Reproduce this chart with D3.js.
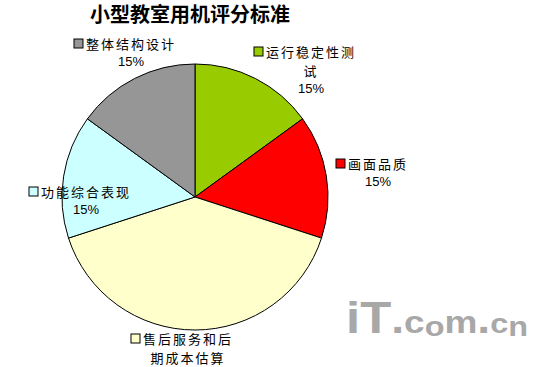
<!DOCTYPE html>
<html lang="zh">
<head>
<meta charset="UTF-8">
<title>小型教室用机评分标准</title>
<script src="https://d3js.org/d3.v7.min.js"></script>
<style>
  body { margin: 0; background: #fff; }
  svg { display: block; }
</style>
</head>
<body>
<svg></svg>
<script>
    var width = 550, height = 367;

    // chart data
    var titleText = "小型教室用机评分标准";
    var categories = ["运行稳定性测试", "画面品质", "售后服务和后期成本估算", "功能综合表现", "整体结构设计"];
    var values = [15, 15, 40, 15, 15];
    var colors = ["#99cc00", "#ff0000", "#ffffcc", "#ccffff", "#969696"];

    // label text split the way the original wraps it, and where each block sits
    var labelLines = [
        ["运行稳定性测", "试", "15%"],
        ["画面品质", "15%"],
        ["售后服务和后", "期成本估算"],
        ["功能综合表现", "15%"],
        ["整体结构设计", "15%"]
    ];
    var labelX = [311, 378, 188, 86, 131];
    var labelY = [[57, 76, 93], [169, 186], [344, 363], [197, 214], [49, 66]];

    var cx = 195, cy = 197, radius = 133;

    var svg = d3.select("svg").attr("width", width).attr("height", height);
    svg.append("rect").attr("width", width).attr("height", height).attr("fill", "#fff");

    svg.append("text")
        .attr("x", 190).attr("y", 22)
        .attr("text-anchor", "middle")
        .style("font-family", "'Noto Sans CJK SC', sans-serif")
        .style("font-weight", "bold")
        .style("font-size", "20px")
        .text(titleText);

    var pie = d3.pie().sort(null).value(function (d) { return d; });
    var arc = d3.arc().innerRadius(0).outerRadius(radius);

    var g = svg.append("g").attr("transform", "translate(" + cx + "," + cy + ")");
    g.selectAll("path")
        .data(pie(values))
        .enter()
        .append("path")
        .attr("d", arc)
        .attr("fill", function (d, i) { return colors[i]; })
        .attr("stroke", "#000")
        .attr("stroke-width", 1);

    // data labels: legend key + category name, then percentage
    categories.forEach(function (c, i) {
        var lg = svg.append("g");
        labelLines[i].forEach(function (line, j) {
            var isNum = /^[0-9%]+$/.test(line);
            var t = lg.append("text")
                .attr("x", labelX[i])
                .attr("y", labelY[i][j])
                .attr("text-anchor", "middle")
                .style("font-family", isNum ? "'Liberation Sans', Arial, sans-serif" : "'Noto Sans CJK SC', sans-serif")
                .style("font-size", "13px")
                .style("letter-spacing", isNum ? "0px" : "2px")
                .text(line);
            if (j === 0) {
                var w = t.node().getComputedTextLength();
                lg.append("rect")
                    .attr("x", labelX[i] - w / 2 - 12)
                    .attr("y", labelY[i][0] - 10)
                    .attr("width", 9).attr("height", 9)
                    .attr("fill", colors[i])
                    .attr("stroke", "#000")
                    .attr("stroke-width", 1);
            }
        });
    });

    // site watermark
    var wm = svg.append("text")
        .attr("x", 346).attr("y", 333)
        .attr("textLength", 182)
        .attr("lengthAdjust", "spacingAndGlyphs")
        .style("font-family", "'Liberation Sans', Arial, sans-serif")
        .style("font-weight", "bold")
        .style("fill", "#a8a8a8");
    wm.append("tspan").style("font-size", "44px").text("iT");
    wm.append("tspan").style("font-size", "40px").text(".");
    wm.append("tspan").style("font-size", "32px").text("c");
    wm.append("tspan").style("font-size", "28px").attr("dy", 3).text("o");
    wm.append("tspan").style("font-size", "32px").attr("dy", -3).text("m");
    wm.append("tspan").style("font-size", "40px").text(".");
    wm.append("tspan").style("font-size", "28px").text("c");
    wm.append("tspan").style("font-size", "28px").attr("dy", 3).text("n");
</script>
</body>
</html>
